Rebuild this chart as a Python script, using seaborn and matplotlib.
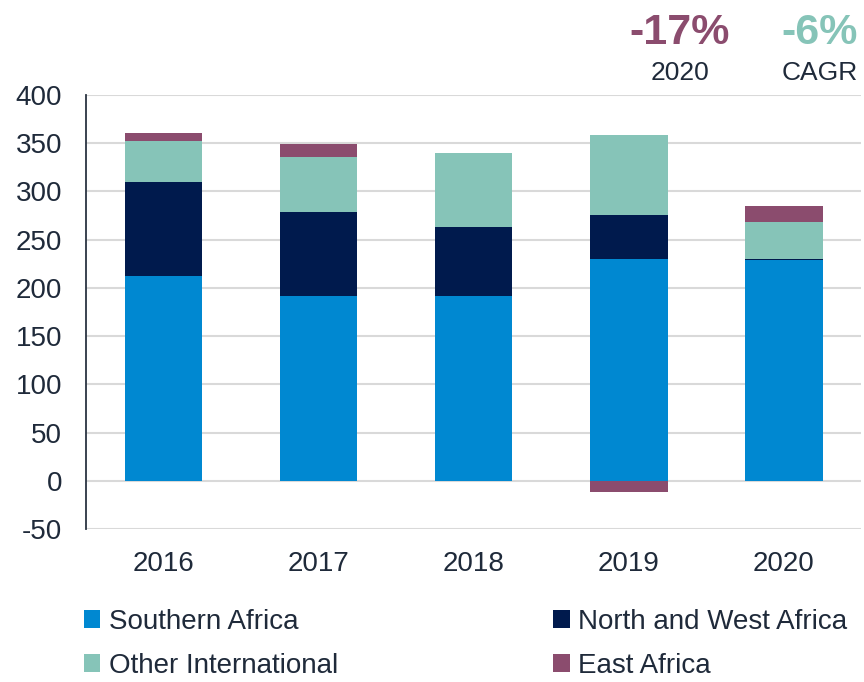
"""Stacked regional bars, 2016-2020, with a negative East Africa value in 2019."""

import numpy as np
import matplotlib
matplotlib.use("Agg")
import matplotlib.pyplot as plt
from matplotlib.patches import Patch
import seaborn as sns

years = ["2016", "2017", "2018", "2019", "2020"]
southern = [212, 192, 191, 230, 229]
north_west = [98, 87, 72, 45, 1]
other_intl = [42, 57, 77, 83, 38]
east = [8, 13, 0, -12, 17]

series_names = ["Southern Africa", "North and West Africa", "Other International", "East Africa"]
series_colors = ["#0088D1", "#001A4D", "#86C4B8", "#8B4C6E"]
y_ticks = [-50, 0, 50, 100, 150, 200, 250, 300, 350, 400]

TEXT = "#1F2A3A"

sns.set_theme(style="white")
plt.rcParams["font.family"] = ["Liberation Sans", "DejaVu Sans"]
plt.rcParams["axes.unicode_minus"] = False

fig = plt.figure(figsize=(8.64, 6.82), dpi=100)
ax = fig.add_axes([0.0995, 0.2243, 0.8975, 0.6367])

# Excel-style stacking: positives pile up from 0, negatives go down from 0
pos_base = np.zeros(len(years))
neg_base = np.zeros(len(years))
for vals, color in zip([southern, north_west, other_intl, east], series_colors):
    vals = np.asarray(vals, dtype=float)
    bottom = np.where(vals >= 0, pos_base, neg_base)
    sns.barplot(x=years, y=vals, order=years, color=color, width=0.5,
                bottom=bottom, saturation=1, linewidth=0, ax=ax, zorder=3)
    pos_base = pos_base + np.clip(vals, 0, None)
    neg_base = neg_base + np.clip(vals, None, 0)

ax.set_ylim(-50, 400)
ax.set_xlim(-0.5, 4.5)
ax.set_yticks(y_ticks)
ax.yaxis.grid(True, color="#D9D9D9", linewidth=1.5, zorder=0)
ax.set_axisbelow(True)
for side in ("top", "right", "bottom"):
    ax.spines[side].set_visible(False)
ax.spines["left"].set_color("#2B3442")
ax.spines["left"].set_linewidth(1.3)
ax.tick_params(axis="both", length=0, labelsize=20, colors=TEXT)
ax.tick_params(axis="y", pad=17)
ax.tick_params(axis="x", pad=16)
ax.set_xlabel("")
ax.set_ylabel("")

handles = [Patch(facecolor=c, edgecolor="none", label=n)
           for n, c in zip(series_names, series_colors)]
# ncol=2 fills by column, so reorder to get the rows right
order = [0, 2, 1, 3]
fig.legend([handles[i] for i in order], [series_names[i] for i in order],
           ncol=2, loc="upper left", bbox_to_anchor=(0.097, 0.1075),
           frameon=False, fontsize=20, labelcolor=TEXT,
           handlelength=0.6, handleheight=0.6, handletextpad=0.3,
           columnspacing=7.75, labelspacing=0.66, borderaxespad=0, borderpad=0)

fig.text(0.787, 0.952, "-17%", ha="center", va="center", fontsize=31,
         fontweight="bold", color="#8B4C6E")
fig.text(0.787, 0.893, "2020", ha="center", va="center", fontsize=19, color=TEXT)
fig.text(0.949, 0.952, "-6%", ha="center", va="center", fontsize=31,
         fontweight="bold", color="#86C4B8")
fig.text(0.949, 0.893, "CAGR", ha="center", va="center", fontsize=19, color=TEXT)

fig.savefig("out.png", dpi=100)
